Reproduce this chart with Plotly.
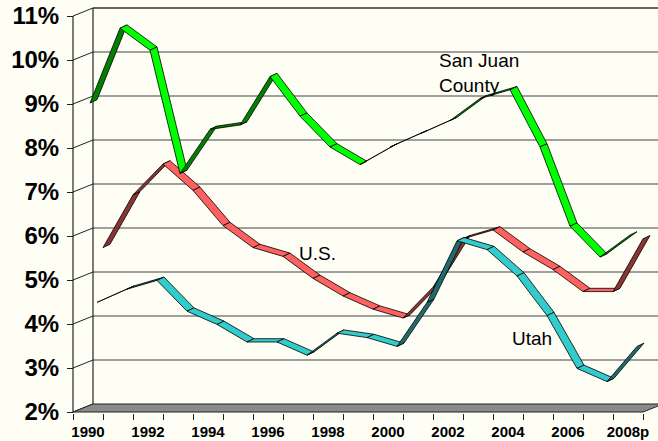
import plotly.graph_objects as go

# ---------------- data ----------------
years = list(range(1990, 2009))
tick_years = [1990, 1992, 1994, 1996, 1998, 2000, 2002, 2004, 2006, 2008]
tick_text = ["1990", "1992", "1994", "1996", "1998", "2000", "2002", "2004", "2006", "2008p"]
pct_ticks = [2, 3, 4, 5, 6, 7, 8, 9, 10, 11]
pct_text = ["2%", "3%", "4%", "5%", "6%", "7%", "8%", "9%", "10%", "11%"]

san_juan = [9.0, 10.7, 10.2, 7.4, 8.4, 8.5, 9.6, 8.7, 8.0, 7.6, 8.0, 8.3, 8.6, 9.1, 9.3, 8.0, 6.2, 5.5, 6.0]
us = [5.6, 6.8, 7.5, 6.9, 6.1, 5.6, 5.4, 4.9, 4.5, 4.2, 4.0, 4.7, 5.8, 6.0, 5.5, 5.1, 4.6, 4.6, 5.8]
utah = [4.4, 4.7, 4.9, 4.2, 3.9, 3.5, 3.5, 3.2, 3.7, 3.6, 3.4, 4.4, 5.8, 5.6, 5.0, 4.1, 2.9, 2.6, 3.4]

# ---------------- geometry (pixel-based 3D look) ----------------
W, H = 658, 441
PX_YEAR = 30.0     # px per category
PX_PCT = 44.0      # px per percent
AXIS_PX = 73       # front axis x pixel
BOTTOM = 28        # bottom margin
X0 = years[0] - 0.5 - AXIS_PX / PX_YEAR
X1 = years[0] - 0.5 + (W - AXIS_PX) / PX_YEAR
Y0 = 2 - 1 / PX_PCT
Y1 = 2 + 412 / PX_PCT
DEPTH_X, DEPTH_Y = 20 / PX_YEAR, 8 / PX_PCT   # wall depth
RIB_X, RIB_Y = 7 / PX_YEAR, 3.3 / PX_PCT      # ribbon depth
BG = "#FEFEF5"
FONT = "Liberation Sans, Arial, sans-serif"

xl = years[0] - 0.5
xr = years[-1] + 0.5

fig = go.Figure()

def line(xs, ys, color="black", width=1.0):
    fig.add_trace(go.Scatter(x=xs, y=ys, mode="lines", line=dict(color=color, width=width),
                             hoverinfo="skip", showlegend=False))

# back wall gridlines
for v in pct_ticks[1:-1]:
    line([xl + DEPTH_X, X1 + 1], [v + DEPTH_Y, v + DEPTH_Y], color="#7F7F7F", width=1.4)
# top edge of back wall
line([xl + DEPTH_X, X1 + 1], [pct_ticks[-1] + DEPTH_Y] * 2, color="#333333", width=1.6)
# side wall lines
for v in pct_ticks:
    line([xl, xl + DEPTH_X], [v, v + DEPTH_Y], color="#222222", width=1.0)
# back-left vertical edge and front axis
line([xl + DEPTH_X, xl + DEPTH_X], [2 + DEPTH_Y, 11 + DEPTH_Y], color="#222222", width=1.2)
line([xl, xl], [2, 11], color="#222222", width=1.2)

# floor
fig.add_trace(go.Scatter(x=[xl, xr, xr + DEPTH_X, xl + DEPTH_X, xl],
                         y=[2, 2, 2 + DEPTH_Y, 2 + DEPTH_Y, 2],
                         mode="lines", fill="toself", fillcolor="#8A8A8A",
                         line=dict(color="#222222", width=1.0), hoverinfo="skip", showlegend=False))

# ribbons: (values, depth offset px x, px y, light, dark)
series = [
    (us, 15, 6, "#FF6060", "#8B3434"),
    (utah, 9, 4, "#33CCCC", "#1F6B6B"),
    (san_juan, 2, 1, "#00FF00", "#007F00"),
]
for vals, sx, sy, light, dark in series:
    ox, oy = sx / PX_YEAR, sy / PX_PCT
    for i in range(len(years) - 1):
        xa, ya = years[i] + ox, vals[i] + oy
        xb, yb = years[i + 1] + ox, vals[i + 1] + oy
        col = dark if vals[i + 1] > vals[i] else light
        fig.add_trace(go.Scatter(
            x=[xa, xb, xb + RIB_X, xa + RIB_X, xa],
            y=[ya, yb, yb + RIB_Y, ya + RIB_Y, ya],
            mode="lines", fill="toself", fillcolor=col,
            line=dict(color="black", width=0.8), hoverinfo="skip", showlegend=False))

# labels
labels = [
    ("San Juan<br>County", 437, 73),
    ("U.S.", 297, 253),
    ("Utah", 510, 338),
]
for txt, px, py in labels:
    fig.add_annotation(x=xl + (px - AXIS_PX) / PX_YEAR, y=2 + (412 - py) / PX_PCT,
                       text=txt, showarrow=False, xanchor="left", yanchor="middle", align="left",
                       font=dict(family=FONT, size=19, color="black"))

fig.update_layout(
    width=W, height=H,
    margin=dict(l=0, r=0, t=0, b=BOTTOM),
    paper_bgcolor=BG, plot_bgcolor=BG,
    showlegend=False,
    xaxis=dict(range=[X0, X1], tickmode="array", tickvals=tick_years, ticktext=tick_text,
               ticks="", showgrid=False, zeroline=False, showline=False,
               tickfont=dict(family=FONT, size=15, color="black", weight="bold"),
               ticklabelstandoff=8,
               minor=dict(tickmode="array", tickvals=[y - 0.5 for y in years] + [years[-1] + 0.5],
                          ticks="outside", ticklen=6, tickcolor="#222222", tickwidth=1, showgrid=False)),
    yaxis=dict(range=[Y0, Y1], anchor="free", position=AXIS_PX / W,
               tickmode="array", tickvals=pct_ticks, ticktext=pct_text,
               ticks="outside", ticklen=6, tickcolor="#222222", tickwidth=1,
               ticklabelstandoff=3,
               showgrid=False, zeroline=False, showline=False,
               tickfont=dict(family=FONT, size=24, color="black", weight="bold")),
)

fig.write_html("out.html", config={"displayModeBar": False},
               post_script="document.body.style.margin='0';document.body.style.background='" + BG + "';")
